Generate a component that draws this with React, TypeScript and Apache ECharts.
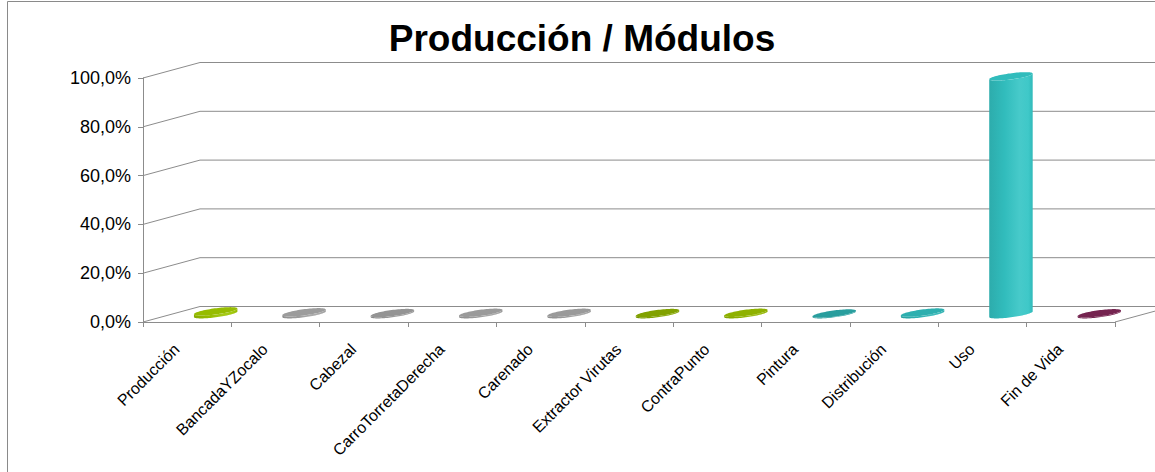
import React, { useEffect, useRef } from "react";
import * as echarts from "echarts";

const categories = [
  "Producción",
  "BancadaYZocalo",
  "Cabezal",
  "CarroTorretaDerecha",
  "Carenado",
  "Extractor Virutas",
  "ContraPunto",
  "Pintura",
  "Distribución",
  "Uso",
  "Fin de Vida",
];
const values = [0.012, 0.008, 0.005, 0.006, 0.006, 0.005, 0.006, 0.003, 0.007, 0.975, 0.004];
const barColors = [
  "#9cc400",
  "#a3a3a3",
  "#9a9a9a",
  "#a0a0a0",
  "#a0a0a0",
  "#86a800",
  "#94b800",
  "#2ba5a5",
  "#2fb6b6",
  "#33c4c4",
  "#7a2553",
];
const yTicks = [0, 0.2, 0.4, 0.6, 0.8, 1.0];

const DX = 57;
const DY = -15.5;

function mix(hex: string, target: number, amt: number) {
  const n = parseInt(hex.slice(1), 16);
  const r = (n >> 16) & 255,
    g = (n >> 8) & 255,
    b = n & 255;
  const f = (c: number) => Math.round(c + (target - c) * amt);
  return `rgb(${f(r)},${f(g)},${f(b)})`;
}

export default function App() {
  const ref = useRef<HTMLDivElement>(null);
  useEffect(() => {
    document.body.style.margin = "0";
    const chart = echarts.init(ref.current!, undefined, { renderer: "svg" });
    const gridColor = "#8c8c8c";
    const font = "Liberation Sans, Arial, sans-serif";
    const option: any = {
      animation: false,
      backgroundColor: "#ffffff",
      textStyle: { fontFamily: font },
      graphic: [
        {
          type: "rect",
          shape: { x: 7.5, y: 1.5, width: 1170, height: 490 },
          style: { fill: "none", stroke: "#8a8a8a", lineWidth: 1 },
          z: -1,
        },
        {
          type: "text",
          x: 582,
          y: 38,
          style: {
            text: "Producción / Módulos",
            fontSize: 37,
            fontWeight: "bold",
            fontFamily: font,
            fill: "#000",
            align: "center",
            verticalAlign: "middle",
          },
        },
      ],
      grid: { left: 143, right: 40, top: 78, bottom: 150 },
      xAxis: {
        type: "category",
        data: categories,
        boundaryGap: true,
        axisLine: { show: true, lineStyle: { color: gridColor, width: 1 } },
        axisTick: { show: true, length: 5, lineStyle: { color: gridColor } },
        axisLabel: {
          interval: 0,
          rotate: 45,
          fontSize: 16,
          color: "#000",
          margin: 14,
          padding: [0, 15, 0, 0],
          fontFamily: font,
        },
        splitLine: { show: false },
      },
      yAxis: {
        type: "value",
        min: 0,
        max: 1,
        interval: 0.2,
        axisLine: { show: true, lineStyle: { color: gridColor, width: 1 } },
        axisTick: { show: true, length: 5, lineStyle: { color: gridColor } },
        axisLabel: {
          fontSize: 18,
          color: "#000",
          margin: 12,
          fontFamily: font,
          formatter: (v: number) => (v * 100).toFixed(1).replace(".", ",") + "%",
        },
        splitLine: { show: false },
      },
      series: [
        {
          type: "custom",
          name: "walls",
          silent: true,
          clip: false,
          z: 1,
          data: yTicks.map((v) => [0, v]),
          renderItem: (params: any, api: any) => {
            const cs = params.coordSys;
            const x0 = cs.x;
            const x1 = cs.x + cs.width;
            const v = api.value(1);
            const y = api.coord([0, v])[1];
            const children: any[] = [
              {
                type: "line",
                shape: { x1: x0, y1: y, x2: x0 + DX, y2: y + DY },
                style: { stroke: gridColor, lineWidth: 1 },
              },
              {
                type: "line",
                shape: { x1: x0 + DX, y1: y + DY, x2: x1 + DX, y2: y + DY },
                style: { stroke: gridColor, lineWidth: 1 },
              },
            ];
            if (v === 0) {
              children.push({
                type: "line",
                shape: { x1: x1, y1: y, x2: x1 + DX, y2: y + DY },
                style: { stroke: gridColor, lineWidth: 1 },
              });
            }
            return { type: "group", children };
          },
        },
        {
          type: "custom",
          name: "bars",
          clip: false,
          z: 3,
          data: values.map((v, i) => [i, v]),
          renderItem: (params: any, api: any) => {
            const i = api.value(0);
            const v = api.value(1);
            const base = api.coord([i, 0]);
            const top = api.coord([i, v]);
            const cx = base[0] + DX / 2;
            const yb = base[1] + DY / 2;
            const yt = top[1] + DY / 2;
            const a = 16;
            const bx = 14.7;
            const by = -4.2;
            const t0 = Math.atan2(bx, a);
            const N = 40;
            const pt = (t: number, yc: number) => [
              cx + a * Math.cos(t) + bx * Math.sin(t),
              yc + by * Math.sin(t),
            ];
            const side: number[][] = [];
            for (let k = 0; k <= N; k++) {
              const t = t0 + Math.PI + (Math.PI * k) / N;
              side.push(pt(t, yb));
            }
            for (let k = N; k >= 0; k--) {
              const t = t0 + Math.PI + (Math.PI * k) / N;
              side.push(pt(t, yt));
            }
            const cap: number[][] = [];
            for (let k = 0; k < 2 * N; k++) {
              cap.push(pt((Math.PI * k) / N, yt));
            }
            const col = barColors[i];
            const grad = new echarts.graphic.LinearGradient(0, 0, 1, 0, [
              { offset: 0, color: mix(col, 0, 0.12) },
              { offset: 0.35, color: mix(col, 0, 0.04) },
              { offset: 0.7, color: mix(col, 255, 0.1) },
              { offset: 0.9, color: mix(col, 255, 0.06) },
              { offset: 1, color: mix(col, 0, 0.05) },
            ]);
            return {
              type: "group",
              children: [
                { type: "polygon", shape: { points: side }, style: { fill: grad } },
                { type: "polygon", shape: { points: cap }, style: { fill: mix(col, 0, 0.04) } },
              ],
            };
          },
        },
      ],
    };
    chart.setOption(option);
    return () => chart.dispose();
  }, []);
  return <div ref={ref} style={{ width: 1155, height: 472 }} />;
}
